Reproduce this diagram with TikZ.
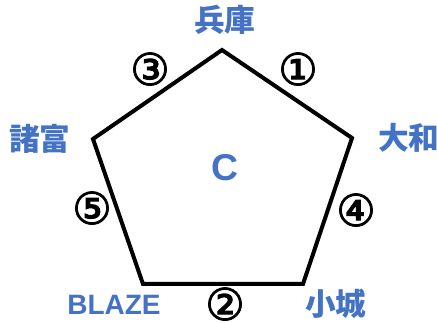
\documentclass[tikz,border=0pt]{standalone}
\usepackage{fontspec}
\setmainfont{Liberation Sans}
\newfontfamily\cjk{Noto Sans CJK JP}
\newfontfamily\symf[AutoFakeBold=2.2]{DejaVu Sans}
\definecolor{lblue}{RGB}{68,114,196}
\begin{document}
\begin{tikzpicture}[x=0.75pt,y=-0.75pt,
  lbl/.style={text=lblue,font=\cjk\bfseries\fontsize{23}{23}\selectfont,inner sep=0pt},
  lat/.style={text=lblue,font=\bfseries\fontsize{21}{21}\selectfont,inner sep=0pt},
  num/.style={font=\symf\bfseries\fontsize{33}{33}\selectfont,inner sep=0pt},
  edge/.style={line width=3pt,line join=miter}]
\useasboundingbox (0,0) rectangle (437,323);
\coordinate (T) at (222,50);
\coordinate (R) at (352,138);
\coordinate (BR) at (303,284);
\coordinate (BL) at (143,284);
\coordinate (L) at (93,139);
\draw[edge] (T) -- (R) -- (BR) -- (BL) -- (L) -- cycle;
\node[lbl] (hyogo) at (225,20) {兵庫};
\node[lbl] (yamato) at (409,138) {大和};
\node[lbl] (morodomi) at (40,139) {諸富};
\node[lbl] (ogi) at (336,304) {小城};
\node[lat] (blaze) at (114,305) {BLAZE};
\node[text=lblue,font=\bfseries\fontsize{28}{28}\selectfont,inner sep=0pt] (c) at (225,168) {C};
\node[num] (n1) at (298,69) {①};
\node[num] (n2) at (225,304) {②};
\node[num] (n3) at (150,69) {③};
\node[num] (n4) at (356,210) {④};
\node[num] (n5) at (92,208) {⑤};
\end{tikzpicture}
\end{document}
